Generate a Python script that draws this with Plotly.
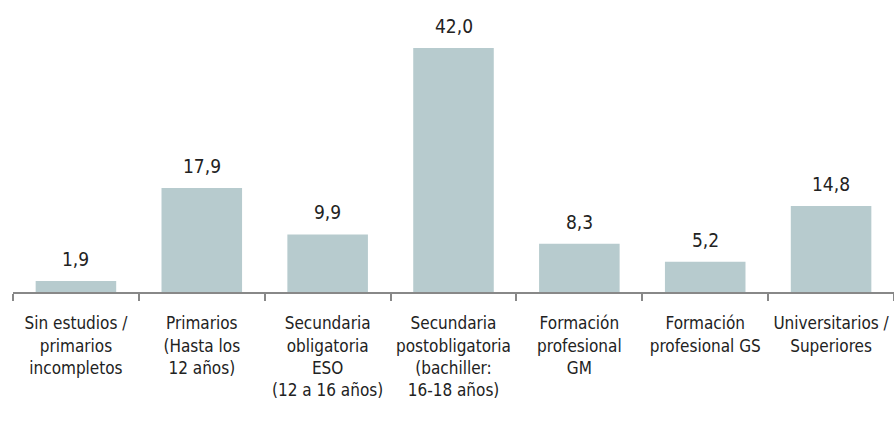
import plotly.graph_objects as go

categorias = [
    "Sin estudios /<br>primarios<br>incompletos",
    "Primarios<br>(Hasta los<br>12 años)",
    "Secundaria<br>obligatoria<br>ESO<br>(12 a 16 años)",
    "Secundaria<br>postobligatoria<br>(bachiller:<br>16-18 años)",
    "Formación<br>profesional<br>GM",
    "Formación<br>profesional GS",
    "Universitarios /<br>Superiores",
]
valores = [1.9, 17.9, 9.9, 42.0, 8.3, 5.2, 14.8]

FUENTE = "DejaVu Sans Condensed, Liberation Sans Narrow, sans-serif"

fig = go.Figure(
    go.Bar(
        x=categorias,
        y=valores,
        marker=dict(color="#b7cbce", line=dict(width=0)),
        width=0.64,
        hoverinfo="skip",
    )
)

# etiquetas de valor con coma decimal, algo separadas de la barra
for cat, val in zip(categorias, valores):
    fig.add_annotation(
        x=cat,
        y=val,
        text=f"{val:.1f}".replace(".", ","),
        showarrow=False,
        yanchor="bottom",
        yshift=9,
        font=dict(size=19, color="#222222", family=FUENTE),
    )

fig.update_layout(
    width=894,
    height=421,
    margin=dict(l=13, r=0, t=20, b=129),
    plot_bgcolor="white",
    paper_bgcolor="white",
    font=dict(family=FUENTE, size=16, color="#222222"),
    showlegend=False,
)
fig.update_xaxes(
    automargin=False,
    showline=True,
    linecolor="#888888",
    linewidth=2,
    ticks="outside",
    tickson="boundaries",
    ticklen=7,
    tickwidth=2,
    tickcolor="#888888",
    tickangle=0,
    ticklabelstandoff=15,
    tickfont=dict(size=17, color="#222222"),
)
fig.update_yaxes(visible=False, range=[0, 46.8])

# sin margen del body para que el gráfico ocupe la ventana exacta
fig.write_html(
    "out.html",
    config={"displayModeBar": False},
    post_script="document.body.style.margin='0';",
)
